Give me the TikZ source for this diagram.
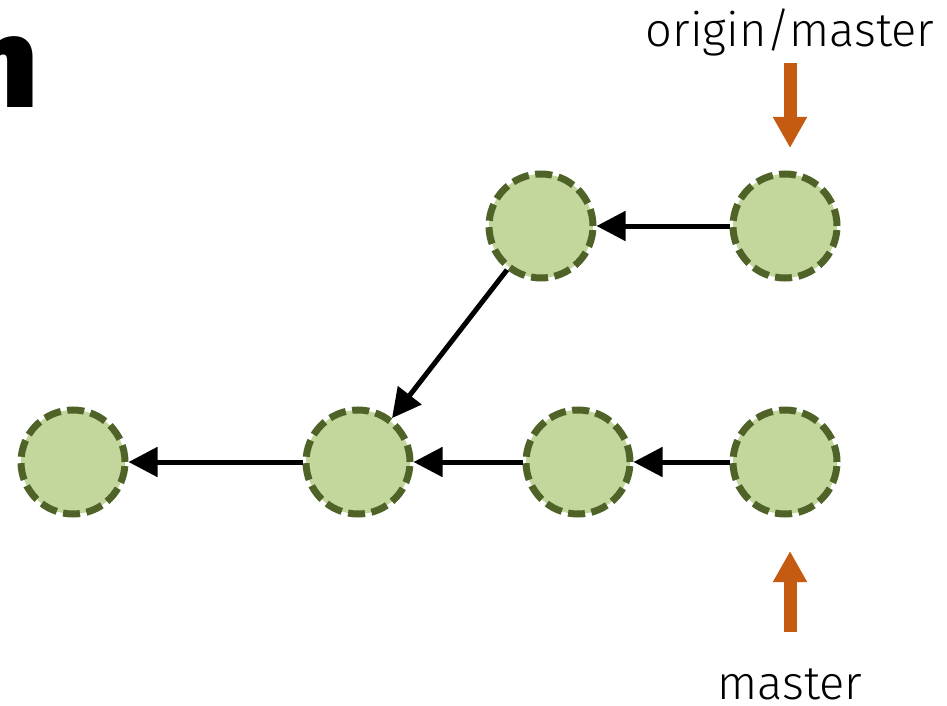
\documentclass[tikz,border=0pt]{standalone}
\usepackage{fontspec}
\setmainfont{Fira Sans}
\newfontfamily\lightfont{Fira Sans Light}
\newfontfamily\heavyfont{Fira Sans Black}
\usetikzlibrary{arrows.meta}
\definecolor{cfill}{HTML}{C3D69B}
\definecolor{cline}{HTML}{4F6228}
\definecolor{corange}{HTML}{C55A11}
\tikzset{
  commit/.style={circle, minimum size=104pt, inner sep=0pt, fill=cfill, draw=cline, line width=7pt, dash pattern=on 17pt off 6.5pt},
  link/.style={line width=5pt, -{Triangle[length=29pt,width=29pt]}},
  lbl/.style={font=\fontsize{47}{56}\lightfont, inner sep=0pt}
}
\begin{document}
\begin{tikzpicture}[x=1pt,y=-1pt]
\useasboundingbox (0,0) rectangle (947,706);
\node[anchor=base east, inner sep=0pt, font=\fontsize{128}{150}\heavyfont] (big) at (38,108) {n};
\node[commit] (c1) at (73,462) {};
\node[commit] (c2) at (358,462) {};
\node[commit] (c3) at (578,462) {};
\node[commit] (c4) at (785,462) {};
\node[commit] (t1) at (541,226) {};
\node[commit] (t2) at (785,226) {};
\draw[link] (t2) -- (t1);
\draw[link] (t1) -- (c2);
\draw[link] (c4) -- (c3);
\draw[link] (c3) -- (c2);
\draw[link] (c2) -- (c1);
\node[lbl, anchor=base] (om) at (790,47) {origin/master};
\node[lbl, anchor=base] (m) at (790,699) {master};
\coordinate (oa) at (790,63);
\coordinate (ob) at (790,148);
\coordinate (ma) at (790,632);
\coordinate (mb) at (790,551);
\draw[corange, line width=13pt, -{Triangle[length=31pt,width=32pt]}] (oa) -- (ob);
\draw[corange, line width=13pt, -{Triangle[length=31pt,width=32pt]}] (ma) -- (mb);
\end{tikzpicture}
\end{document}
